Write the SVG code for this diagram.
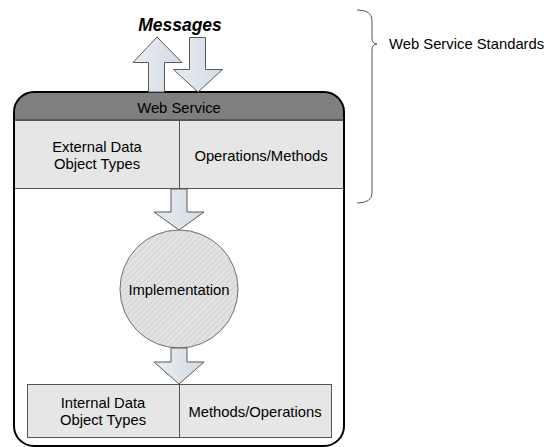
<svg xmlns="http://www.w3.org/2000/svg" width="547" height="447" viewBox="0 0 547 447">
<defs>
<style>
.t{font-family:"Liberation Sans",Arial,sans-serif;font-size:14.8px;fill:#000;text-anchor:middle}
.arrow{fill:url(#ag);stroke:#5a5a5a;stroke-width:1}
.cell{fill:#e6e6e6;stroke:#555;stroke-width:1}
</style>
<linearGradient id="ag" x1="0" y1="0" x2="1" y2="0">
<stop offset="0" stop-color="#e9edf2"/>
<stop offset="1" stop-color="#d3dbe4"/>
</linearGradient>
<pattern id="hatch" width="4" height="4" patternUnits="userSpaceOnUse" patternTransform="rotate(45)">
<rect width="4" height="4" fill="#e2e2e2"/>
<line x1="0" y1="0" x2="0" y2="4" stroke="#c4c4c4" stroke-width="1"/>
</pattern>
<clipPath id="outerclip"><rect x="14" y="92" width="330" height="354" rx="20" ry="20"/></clipPath>
</defs>
<rect width="547" height="447" fill="#fff"/>

<g id="web-service">
<rect x="14" y="92" width="330" height="354" rx="20" ry="20" fill="#fff"/>
<rect x="14" y="92" width="330" height="28" fill="#7f7f7f" clip-path="url(#outerclip)"/>
<line x1="14" y1="120" x2="344" y2="120" stroke="#333" stroke-width="1"/>
<text class="t" x="179" y="113">Web Service</text>
</g>

<g id="external-data">
<rect class="cell" x="14.5" y="120.5" width="165" height="68"/>
<text class="t" x="97" y="152">External Data</text>
<text class="t" x="97" y="169">Object Types</text>
</g>
<g id="operations-methods">
<rect class="cell" x="179.5" y="120.5" width="164" height="68"/>
<text class="t" x="261" y="161">Operations/Methods</text>
</g>

<g id="implementation">
<circle cx="179" cy="289" r="59" fill="url(#hatch)" stroke="#6e6e6e" stroke-width="1"/>
<text class="t" x="179" y="295">Implementation</text>
</g>

<g id="internal-data">
<rect class="cell" x="27.5" y="384.5" width="152" height="53"/>
<text class="t" x="103" y="408">Internal Data</text>
<text class="t" x="103" y="425">Object Types</text>
</g>
<g id="methods-operations">
<rect class="cell" x="179.5" y="384.5" width="152" height="53"/>
<text class="t" x="255" y="416.5">Methods/Operations</text>
</g>

<rect x="14" y="92" width="330" height="354" rx="20" ry="20" fill="none" stroke="#000" stroke-width="2"/>

<g id="messages">
<text x="180" y="31" font-family="'Liberation Sans',Arial,sans-serif" font-size="17.5" font-weight="bold" font-style="italic" text-anchor="middle">Messages</text>
</g>

<g id="connectors">
<polygon class="arrow" points="148.5,92 148.5,62.5 133,62.5 157,37 182,62.5 164.5,62.5 164.5,92"/>
<polygon class="arrow" points="189.5,37.5 205.5,37.5 205.5,69.5 222.5,69.5 198,92 173.5,69.5 189.5,69.5"/>
<polygon class="arrow" points="171,189 187,189 187,212 204,212 179,230 154,212 171,212"/>
<polygon class="arrow" points="171,348 187,348 187,362 204,362 179,384 154,362 171,362"/>
</g>

<g id="standards">
<path d="M357,10 Q372,10 372,20 L372,38 Q372,44 377,44 Q372,44 372,50 L372,193 Q372,203 357,203" fill="none" stroke="#555" stroke-width="1"/>
<text x="389" y="49" font-family="'Liberation Sans',Arial,sans-serif" font-size="14.8">Web Service Standards</text>
</g>
</svg>
